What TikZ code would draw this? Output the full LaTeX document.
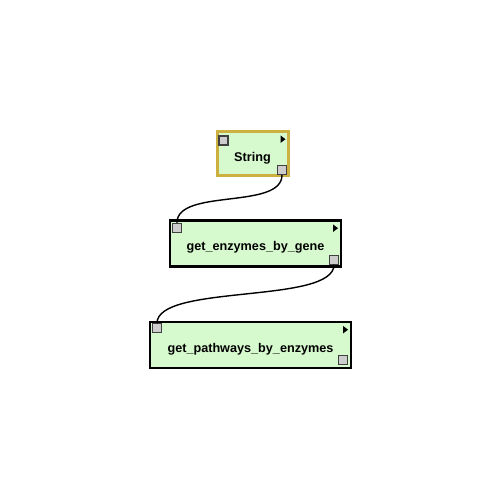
\documentclass[tikz,border=0pt]{standalone}
\usepackage{fontspec}
\setmainfont{Liberation Sans}
\usetikzlibrary{positioning}
\definecolor{boxfill}{RGB}{214,250,206}
\definecolor{constline}{RGB}{204,176,64}
\definecolor{portfill}{RGB}{205,205,205}
\tikzset{
    proc/.style={draw=black, line width=1.2pt, fill=boxfill, rectangle, inner sep=0pt, text height=8.5pt, text depth=0pt, font=\bfseries\fontsize{7.2}{9}\selectfont},
    constbox/.style={proc, draw=constline, line width=1.7pt},
    port/.style={draw=black!75, fill=portfill, line width=0.6pt, minimum size=0.18cm, inner sep=0pt},
    link/.style={line width=0.8pt}
}
\begin{document}
\begin{tikzpicture}
    \useasboundingbox (0,0) rectangle (10,10);
    \node[constbox, minimum width=1.42cm, minimum height=0.88cm] (str) at (5.05,6.92) {String};
    \node[proc, minimum width=3.42cm, minimum height=0.92cm] (enz) at (5.11,5.13) {get\_enzymes\_by\_gene};
    \node[proc, minimum width=4.02cm, minimum height=0.92cm] (path) at (5.01,3.10) {get\_pathways\_by\_enzymes};
    % ports
    \node[port] (str-in) at ([shift={(0.16,-0.2)}]str.north west) {};
    \node[port] (str-out) at ([shift={(-0.15,0.15)}]str.south east) {};
    \node[port] (enz-in) at ([shift={(0.16,-0.17)}]enz.north west) {};
    \node[port] (enz-out) at ([shift={(-0.16,0.16)}]enz.south east) {};
    \node[port] (path-in) at ([shift={(0.16,-0.15)}]path.north west) {};
    \node[port] (path-out) at ([shift={(-0.18,0.18)}]path.south east) {};
    \foreach \n in {str,enz,path}
        \fill[shift={(\n.north east)}] (-0.18,-0.1) -- ++(0.1,-0.075) -- ++(-0.1,-0.075) -- cycle;
    % links
    \draw[link] (str-out.south) .. controls +(0,-0.7) and +(0,0.7) .. (enz-in.north);
    \draw[link] (enz-out.south) .. controls +(0,-0.8) and +(0,0.8) .. (path-in.north);
\end{tikzpicture}
\end{document}
